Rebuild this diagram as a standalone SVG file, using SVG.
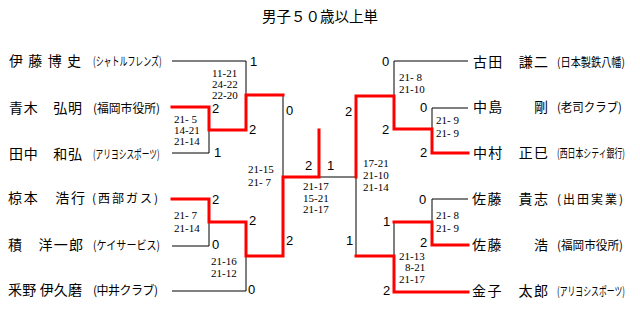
<svg xmlns="http://www.w3.org/2000/svg" width="640" height="325" viewBox="0 0 640 325">
<style>
.bg{fill:#fff}
.nm{font-family:"Noto Sans CJK JP","Noto Sans CJK SC",sans-serif;font-size:14px;fill:#000}
.af{font-family:"Noto Sans CJK JP","Noto Sans CJK SC",sans-serif;font-size:12px;fill:#000}
.sc{font-family:"Liberation Serif","Times New Roman",serif;font-size:11px;fill:#000}
.gs{font-family:"Liberation Sans",Arial,sans-serif;font-size:13px;fill:#000}
.ttl{font-family:"Noto Sans CJK JP","Noto Sans CJK SC",sans-serif;font-size:14.5px;fill:#000}
.b{fill:none;stroke:#000;stroke-width:1}
.r{fill:none;stroke:#f00;stroke-width:3;stroke-linejoin:miter;stroke-linecap:square}
</style>
<rect class="bg" x="0" y="0" width="640" height="325"/>
<text class="ttl" x="262" y="22" textLength="116" lengthAdjust="spacing">男子５０歳以上単</text>

<g id="connectors">
  <path class="b" d="M172,61 H246 V95"/>
  <path class="b" d="M172,153 H209 V130"/>
  <path class="b" d="M172,246 H209 V222"/>
  <path class="b" d="M172,291 H246 V256"/>
  <path class="b" d="M283,95 V177"/>
  <path class="b" d="M319,177 H356"/>
  <path class="b" d="M468,61 H394 V96"/>
  <path class="b" d="M468,108 H432 V129"/>
  <path class="b" d="M468,199 H432 V222"/>
  <path class="b" d="M394,222 V256"/>
  <path class="b" d="M356,177 V256"/>
  <path class="r" d="M172,107 H209 V130 H246 V95 H283"/>
  <path class="r" d="M172,199 H209 V222 H246 V256 H283 V177 H319 V130"/>
  <path class="r" d="M468,153 H432 V129 H394 V96 H356 V177"/>
  <path class="r" d="M468,245 H432 V222 H394"/>
  <path class="r" d="M468,292 H394 V256 H356"/>
</g>

<g id="scores">
  <text class="gs" x="250" y="66">1</text>
  <text class="sc" x="212" y="77">11-21</text>
  <text class="sc" x="212" y="88">24-22</text>
  <text class="sc" x="212" y="99">22-20</text>
  <text class="gs" x="212" y="113">2</text>
  <text class="sc" x="174" y="123" xml:space="preserve">21- 5</text>
  <text class="sc" x="174" y="134">14-21</text>
  <text class="sc" x="174" y="145">21-14</text>
  <text class="gs" x="214" y="157">1</text>
  <text class="gs" x="249" y="134">2</text>
  <text class="gs" x="286" y="115">0</text>

  <text class="gs" x="212" y="204">2</text>
  <text class="sc" x="174" y="219" xml:space="preserve">21- 7</text>
  <text class="sc" x="174" y="232">21-14</text>
  <text class="gs" x="212" y="249">0</text>
  <text class="gs" x="249" y="225">2</text>
  <text class="sc" x="211" y="265">21-16</text>
  <text class="sc" x="211" y="277">21-12</text>
  <text class="gs" x="248" y="294">0</text>
  <text class="gs" x="286" y="245">2</text>
  <text class="sc" x="248" y="173">21-15</text>
  <text class="sc" x="248" y="186" xml:space="preserve">21- 7</text>

  <text class="gs" x="305" y="170">2</text>
  <text class="gs" x="327" y="170">1</text>
  <text class="sc" x="303" y="190">21-17</text>
  <text class="sc" x="303" y="202">15-21</text>
  <text class="sc" x="303" y="213">21-17</text>

  <text class="sc" x="363" y="167">17-21</text>
  <text class="sc" x="363" y="179">21-10</text>
  <text class="sc" x="363" y="191">21-14</text>
  <text class="gs" x="345" y="116">2</text>
  <text class="gs" x="346" y="245">1</text>

  <text class="gs" x="382" y="66">0</text>
  <text class="sc" x="399" y="81" xml:space="preserve">21- 8</text>
  <text class="sc" x="399" y="93">21-10</text>
  <text class="gs" x="420" y="112">0</text>
  <text class="sc" x="436" y="124" xml:space="preserve">21- 9</text>
  <text class="sc" x="436" y="137" xml:space="preserve">21- 9</text>
  <text class="gs" x="382" y="134">2</text>
  <text class="gs" x="420" y="157">2</text>

  <text class="gs" x="419" y="204">0</text>
  <text class="sc" x="436" y="219" xml:space="preserve">21- 8</text>
  <text class="sc" x="436" y="232" xml:space="preserve">21- 9</text>
  <text class="gs" x="383" y="226">1</text>
  <text class="gs" x="420" y="247">2</text>
  <text class="sc" x="399" y="260">21-13</text>
  <text class="sc" x="405" y="271">8-21</text>
  <text class="sc" x="399" y="283">21-17</text>
  <text class="gs" x="383" y="295">2</text>
</g>

<g id="p-ito">
  <text class="nm" x="9" y="66" textLength="72" lengthAdjust="spacing">伊藤博史</text>
  <text class="af" transform="translate(93 66) scale(0.68 1)" x="0" y="0" textLength="101" lengthAdjust="spacingAndGlyphs">(シャトルフレンズ)</text>
</g>
<g id="p-aoki">
  <text class="nm" x="9" y="113" textLength="73" lengthAdjust="spacing">青木　弘明</text>
  <text class="af" x="93" y="113" textLength="67" lengthAdjust="spacingAndGlyphs">(福岡市役所)</text>
</g>
<g id="p-tanaka">
  <text class="nm" x="9" y="159" textLength="73" lengthAdjust="spacing">田中　和弘</text>
  <text class="af" transform="translate(93 159) scale(0.66 1)" x="0" y="0" textLength="101" lengthAdjust="spacingAndGlyphs">(アリヨシスポーツ)</text>
</g>
<g id="p-mukumoto">
  <text class="nm" x="8" y="203" textLength="77" lengthAdjust="spacing">椋本　浩行</text>
  <text class="af" x="92" y="203" textLength="66" lengthAdjust="spacing">(西部ガス)</text>
</g>
<g id="p-seki">
  <text class="nm" x="8" y="250" textLength="75" lengthAdjust="spacing">積　洋一郎</text>
  <text class="af" x="93" y="250" textLength="67" lengthAdjust="spacingAndGlyphs">(ケイサービス)</text>
</g>
<g id="p-uneno">
  <text class="nm" x="8" y="295" textLength="74" lengthAdjust="spacing">釆野 伊久磨</text>
  <text class="af" x="93" y="295" textLength="65" lengthAdjust="spacing">(中井クラブ)</text>
</g>

<g id="p-furuta">
  <text class="nm" x="473" y="67" textLength="75" lengthAdjust="spacing">古田　謙二</text>
  <text class="af" transform="translate(557 67) scale(0.85 1)" x="0" y="0" textLength="80" lengthAdjust="spacingAndGlyphs">(日本製鉄八幡)</text>
</g>
<g id="p-nakashima">
  <text class="nm" x="473" y="112" textLength="75" lengthAdjust="spacing">中島　　剛</text>
  <text class="af" x="557" y="112" textLength="65" lengthAdjust="spacingAndGlyphs">(老司クラブ)</text>
</g>
<g id="p-nakamura">
  <text class="nm" x="473" y="158" textLength="75" lengthAdjust="spacing">中村　正巳</text>
  <text class="af" transform="translate(557 158) scale(0.66 1)" x="0" y="0" textLength="103" lengthAdjust="spacingAndGlyphs">(西日本シティ銀行)</text>
</g>
<g id="p-sato-takashi">
  <text class="nm" x="472" y="204" textLength="76" lengthAdjust="spacing">佐藤　貴志</text>
  <text class="af" x="557" y="204" textLength="66" lengthAdjust="spacing">(出田実業)</text>
</g>
<g id="p-sato-hiroshi">
  <text class="nm" x="472" y="250" textLength="76" lengthAdjust="spacing">佐藤　　浩</text>
  <text class="af" x="557" y="250" textLength="66" lengthAdjust="spacingAndGlyphs">(福岡市役所)</text>
</g>
<g id="p-kaneko">
  <text class="nm" x="472" y="296" textLength="76" lengthAdjust="spacing">金子　太郎</text>
  <text class="af" transform="translate(557 296) scale(0.66 1)" x="0" y="0" textLength="103" lengthAdjust="spacingAndGlyphs">(アリヨシスポーツ)</text>
</g>
</svg>
